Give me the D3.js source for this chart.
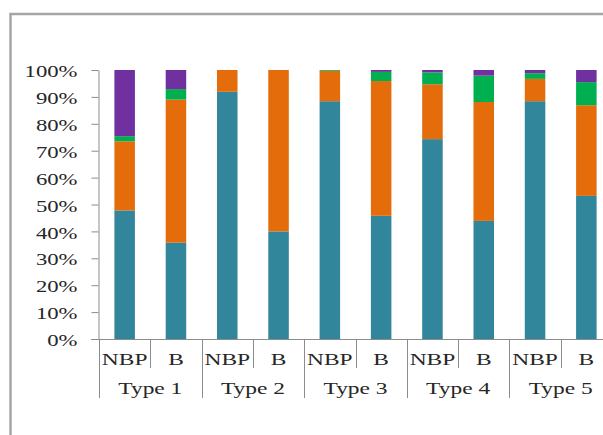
<!DOCTYPE html>
<html>
<head>
<meta charset="utf-8">
<script src="https://cdn.jsdelivr.net/npm/d3@7"></script>
<style>
  html, body { margin: 0; padding: 0; background: #fff; overflow: hidden; }
  svg { display: block; }
  text { font-family: "Liberation Serif", "Times New Roman", serif; fill: #262626; }
</style>
</head>
<body>
<svg id="chart" width="603" height="435"></svg>
<script>
// ---- data ----
const groups = ["Type 1", "Type 2", "Type 3", "Type 4", "Type 5"];
const subLabels = ["NBP", "B"];
const categories = ["T1-NBP", "T1-B", "T2-NBP", "T2-B", "T3-NBP", "T3-B", "T4-NBP", "T4-B", "T5-NBP", "T5-B"];
const seriesKeys = ["s1", "s2", "s3", "s4"];
const s1 = [47.8, 35.8, 91.9, 40.0, 88.4, 45.8, 74.3, 43.9, 88.4, 53.2];
const s2 = [25.7, 53.2, 8.1, 60.0, 11.3, 50.1, 20.4, 44.2, 8.3, 33.7];
const s3 = [1.9, 3.9, 0, 0, 0.3, 3.4, 4.4, 9.8, 2.1, 8.6];
const s4 = [24.6, 7.1, 0, 0, 0, 0.7, 0.9, 2.1, 1.2, 4.5];
const yTicks = [0, 0.1, 0.2, 0.3, 0.4, 0.5, 0.6, 0.7, 0.8, 0.9, 1.0];
const colors = ["#31869B", "#E46C0A", "#00B050", "#7030A0"];

(function () {
// ---- build table ----
const table = categories.map((c, i) => ({
  cat: c, s1: s1[i] / 100, s2: s2[i] / 100, s3: s3[i] / 100, s4: s4[i] / 100
}));

const svg = d3.select("#chart");
const axisColor = "#8C8C8C";
const sx = 1.42;

// outer frame
svg.append("rect")
  .attr("x", 10.5).attr("y", 14)
  .attr("width", 700).attr("height", 600)
  .attr("fill", "none").attr("stroke", "#A6A6A6").attr("stroke-width", 2.5);

const pLeft = 99, pRight = 612, pTop = 70, pBottom = 339;

const y = d3.scaleLinear().domain([0, 1]).range([pBottom, pTop]);
const x = d3.scaleBand().domain(categories).range([pLeft, pRight])
  .paddingInner(0.6).paddingOuter(0.3);
const xb = d3.scaleBand().domain(categories).range([pLeft, pRight]).padding(0);

// bars
const stack = d3.stack().keys(seriesKeys);
const stacked = stack(table);
svg.append("g").selectAll("g")
  .data(stacked).join("g")
  .attr("fill", (d, i) => colors[i])
  .selectAll("rect")
  .data(d => d).join("rect")
  .attr("x", d => x(d.data.cat))
  .attr("width", x.bandwidth())
  .attr("y", d => y(d[1]))
  .attr("height", d => Math.max(0, y(d[0]) - y(d[1])));

// y axis
const yAxis = d3.axisLeft(y).tickValues(yTicks).tickFormat(d3.format(".0%"))
  .tickSize(7).tickSizeOuter(0);
const gy = svg.append("g").attr("transform", `translate(${pLeft - 0.5},0)`).call(yAxis);
gy.select(".domain").attr("stroke", axisColor);
gy.selectAll(".tick line").attr("stroke", axisColor);
gy.selectAll(".tick text")
  .attr("x", null).attr("dy", null)
  .attr("dominant-baseline", "central")
  .attr("text-anchor", "end")
  .attr("transform", `translate(-21,1) scale(${sx},1)`)
  .style("font-size", "16px")
  .style("font-family", "'Liberation Serif', serif")
  .attr("fill", "#262626");

// x axis baseline
svg.append("line")
  .attr("x1", pLeft - 8).attr("x2", pRight)
  .attr("y1", pBottom + 0.5).attr("y2", pBottom + 0.5)
  .attr("stroke", axisColor);

// separators
const bounds = categories.map(c => xb(c)).concat([pRight]);
svg.append("g").selectAll("line")
  .data(bounds).join("line")
  .attr("x1", d => Math.round(d) + 0.5).attr("x2", d => Math.round(d) + 0.5)
  .attr("y1", pBottom)
  .attr("y2", (d, i) => (i % 2 === 0 ? 398 : 368))
  .attr("stroke", axisColor);

// sub labels
svg.append("g").selectAll("text")
  .data(categories).join("text")
  .attr("text-anchor", "middle")
  .attr("transform", (d, i) => `translate(${xb(d) + xb.bandwidth() / 2},365) scale(${sx},1)`)
  .style("font-size", "16.5px")
  .text((d, i) => subLabels[i % 2]);

// group labels
svg.append("g").selectAll("text")
  .data(groups).join("text")
  .attr("text-anchor", "middle")
  .attr("transform", (d, i) => `translate(${xb(categories[i * 2]) + xb.bandwidth()},394) scale(${sx},1)`)
  .style("font-size", "16.5px")
  .text(d => d);
})();
</script>
</body>
</html>
